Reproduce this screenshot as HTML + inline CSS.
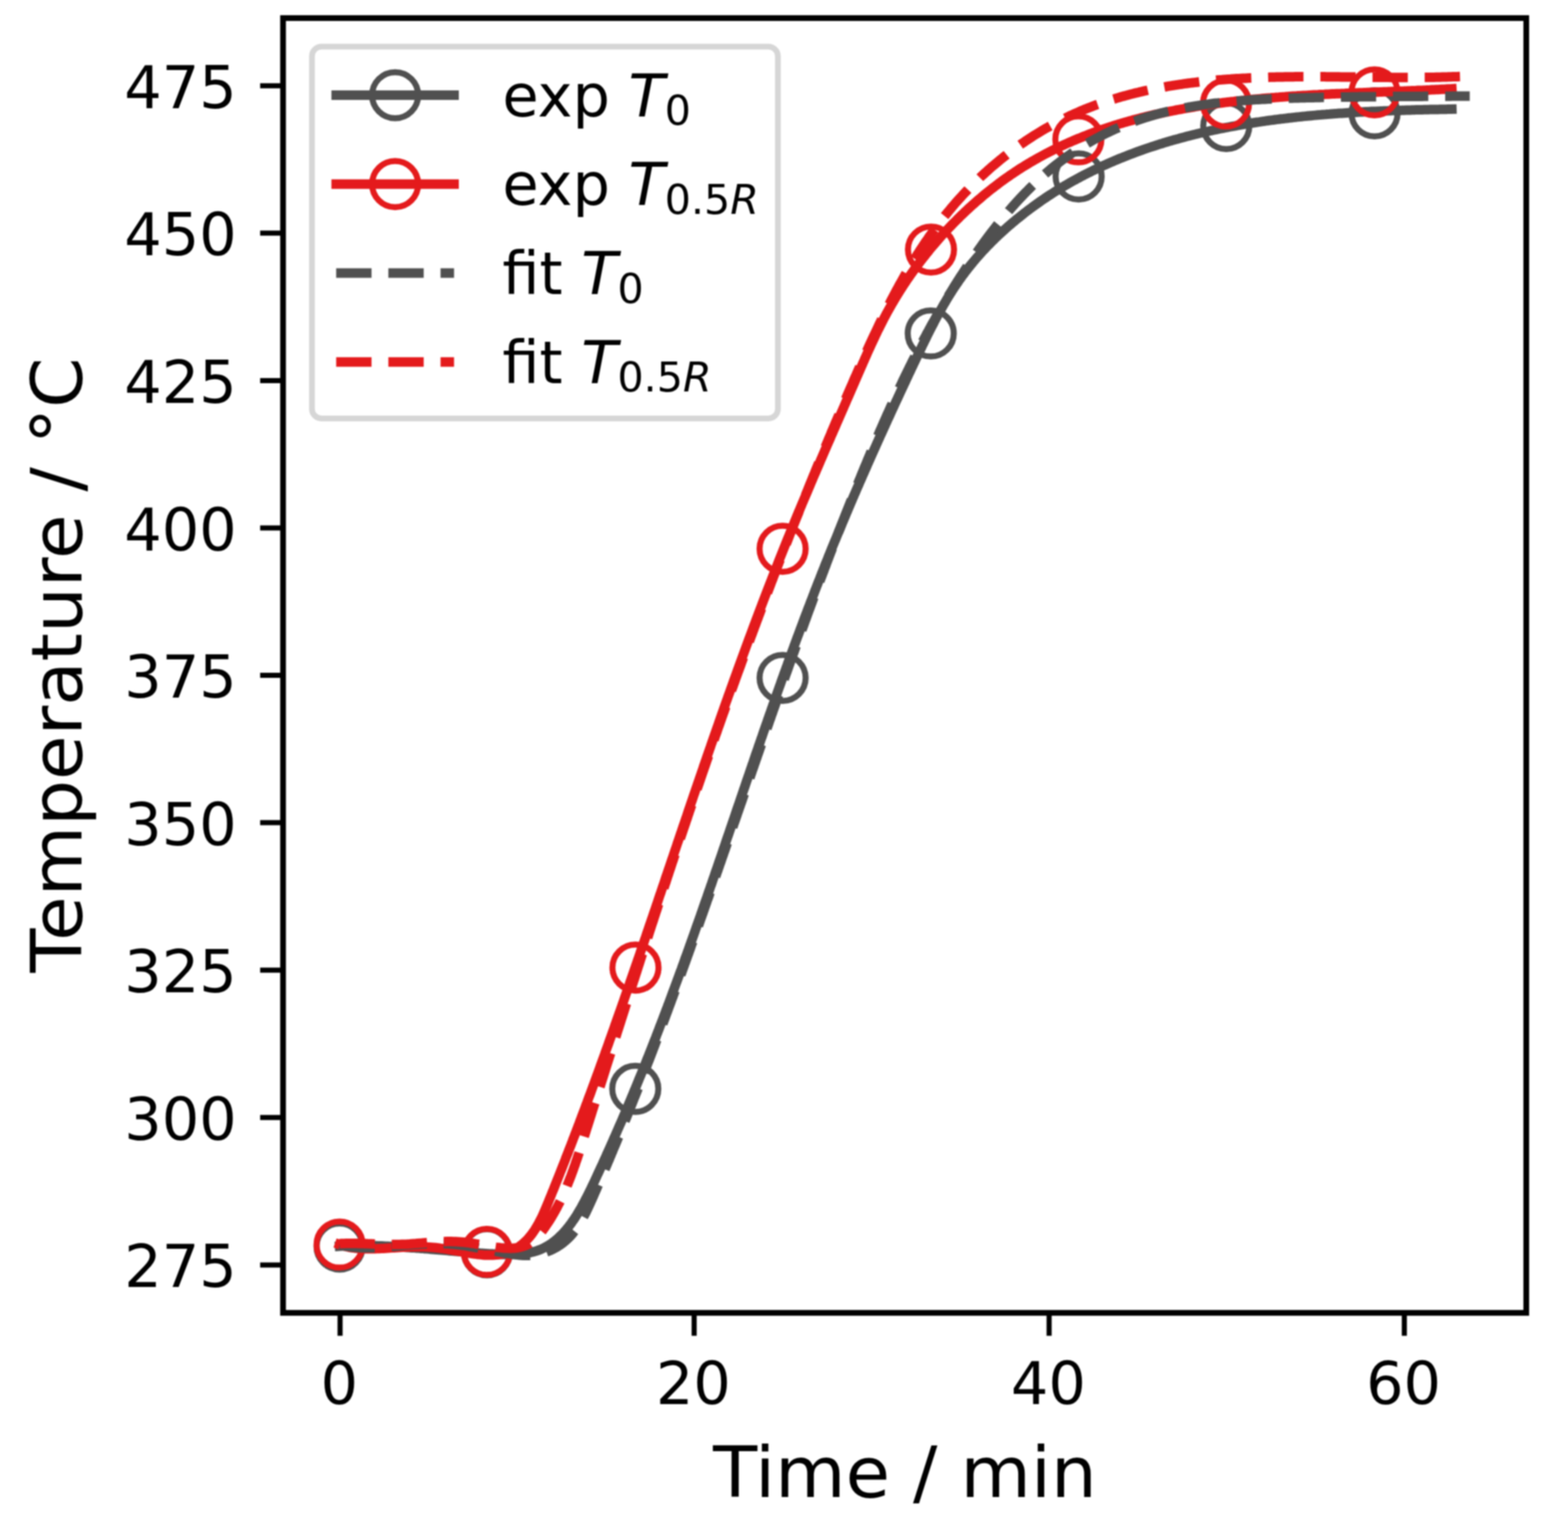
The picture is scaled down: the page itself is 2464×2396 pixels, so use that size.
<!DOCTYPE html>
<html><head><meta charset="utf-8"><title>Temperature vs Time</title>
<style>
html,body{margin:0;padding:0;background:#fff;}
svg{display:block;filter:blur(0.9px);}
text{font-family:"DejaVu Sans","Liberation Sans",sans-serif;fill:#000;}
</style></head><body>
<svg width="2464" height="2396" viewBox="0 0 2464 2396">
<rect width="2464" height="2396" fill="#fff"/>
<defs><clipPath id="ax"><rect x="444.8" y="28.4" width="1953.6" height="2034.3"/></clipPath></defs>
<g clip-path="url(#ax)">
<path d="M533.6,1958.0L536.5,1957.8L539.4,1957.7L542.3,1957.5L545.2,1957.4L548.1,1957.3L551.0,1957.2L554.0,1957.1L556.9,1957.1L559.9,1957.0L562.9,1957.0L565.9,1957.0L568.9,1957.0L571.9,1957.0L575.0,1957.0L578.0,1957.0L581.1,1957.1L584.1,1957.1L587.2,1957.2L590.3,1957.3L593.4,1957.4L596.5,1957.5L599.6,1957.6L602.7,1957.7L605.9,1957.9L609.0,1958.0L612.2,1958.2L615.3,1958.3L618.5,1958.5L621.7,1958.7L624.9,1958.9L628.1,1959.1L631.3,1959.3L634.5,1959.5L637.7,1959.7L640.9,1959.9L644.2,1960.2L647.4,1960.4L650.6,1960.6L653.9,1960.9L657.1,1961.1L660.4,1961.4L663.7,1961.6L666.9,1961.9L670.2,1962.1L673.5,1962.4L676.8,1962.7L680.1,1963.0L683.4,1963.2L686.7,1963.5L690.0,1963.8L693.3,1964.1L696.6,1964.3L699.9,1964.6L703.2,1964.9L706.5,1965.2L709.9,1965.4L713.2,1965.7L716.5,1966.0L719.8,1966.3L723.2,1966.5L726.5,1966.8L729.8,1967.1L733.2,1967.3L736.5,1967.6L739.8,1967.8L743.2,1968.1L746.5,1968.3L749.8,1968.6L753.2,1968.8L756.5,1969.1L759.8,1969.3L763.2,1969.5L766.5,1969.7L769.8,1969.9L773.2,1970.1L776.5,1970.3L779.8,1970.5L783.1,1970.6L786.4,1970.8L789.7,1970.9L793.0,1971.0L796.2,1971.0L799.4,1971.0L802.7,1971.0L805.8,1970.9L809.0,1970.8L812.2,1970.7L815.3,1970.4L818.4,1970.2L821.4,1969.9L824.4,1969.5L827.4,1969.0L830.4,1968.5L833.3,1968.0L836.2,1967.3L839.0,1966.6L841.8,1965.8L844.5,1964.9L847.2,1963.9L849.8,1962.9L852.4,1961.7L855.0,1960.5L857.5,1959.2L859.9,1957.8L862.3,1956.4L864.7,1954.9L867.0,1953.3L869.3,1951.6L871.5,1949.9L873.7,1948.1L875.9,1946.2L878.0,1944.3L880.1,1942.3L882.2,1940.3L884.2,1938.2L886.2,1936.0L888.1,1933.8L890.0,1931.6L891.9,1929.3L893.8,1927.0L895.6,1924.6L897.4,1922.2L899.1,1919.7L900.9,1917.2L902.6,1914.7L904.3,1912.1L906.0,1909.5L907.6,1906.8L909.2,1904.1L910.8,1901.4L912.4,1898.7L914.0,1895.9L915.5,1893.1L917.0,1890.3L918.6,1887.5L920.0,1884.6L921.5,1881.8L923.0,1878.9L924.5,1876.0L925.9,1873.1L927.3,1870.1L928.8,1867.2L930.2,1864.2L931.6,1861.3L933.0,1858.3L934.4,1855.4L935.8,1852.4L937.2,1849.4L938.5,1846.5L939.9,1843.5L941.3,1840.5L942.7,1837.6L944.0,1834.6L945.4,1831.6L946.8,1828.7L948.1,1825.7L949.5,1822.7L950.8,1819.8L952.2,1816.8L953.5,1813.8L954.8,1810.9L956.2,1807.9L957.5,1804.9L958.8,1802.0L960.2,1799.0L961.5,1796.0L962.8,1793.1L964.1,1790.1L965.4,1787.1L966.7,1784.2L968.0,1781.2L969.3,1778.2L970.6,1775.3L971.9,1772.3L973.2,1769.3L974.5,1766.4L975.8,1763.4L977.1,1760.4L978.3,1757.5L979.6,1754.5L980.9,1751.5L982.2,1748.6L983.4,1745.6L984.7,1742.6L985.9,1739.7L987.2,1736.7L988.4,1733.7L989.7,1730.7L990.9,1727.8L992.2,1724.8L993.4,1721.8L994.7,1718.9L995.9,1715.9L997.1,1712.9L998.3,1710.0L999.6,1707.0L1000.8,1704.0L1002.0,1701.0L1003.2,1698.1L1004.4,1695.1L1005.7,1692.1L1006.9,1689.2L1008.1,1686.2L1009.3,1683.2L1010.5,1680.3L1011.7,1677.3L1012.9,1674.3L1014.1,1671.3L1015.2,1668.4L1016.4,1665.4L1017.6,1662.4L1018.8,1659.5L1020.0,1656.5L1021.1,1653.5L1022.3,1650.6L1023.5,1647.6L1024.7,1644.6L1025.8,1641.6L1027.0,1638.7L1028.1,1635.7L1029.3,1632.7L1030.5,1629.8L1031.6,1626.8L1032.8,1623.8L1033.9,1620.8L1035.1,1617.9L1036.2,1614.9L1037.3,1611.9L1038.5,1609.0L1039.6,1606.0L1040.8,1603.0L1041.9,1600.0L1043.0,1597.1L1044.2,1594.1L1045.3,1591.1L1046.4,1588.2L1047.5,1585.2L1048.7,1582.2L1049.8,1579.2L1050.9,1576.3L1052.0,1573.3L1053.1,1570.3L1054.2,1567.4L1055.3,1564.4L1056.4,1561.4L1057.5,1558.4L1058.6,1555.5L1059.7,1552.5L1060.8,1549.5L1061.9,1546.5L1063.0,1543.6L1064.1,1540.6L1065.2,1537.6L1066.3,1534.7L1067.4,1531.7L1068.5,1528.7L1069.6,1525.7L1070.7,1522.8L1071.7,1519.8L1072.8,1516.8L1073.9,1513.9L1075.0,1510.9L1076.0,1507.9L1077.1,1504.9L1078.2,1502.0L1079.3,1499.0L1080.3,1496.0L1081.4,1493.1L1082.5,1490.1L1083.5,1487.1L1084.6,1484.1L1085.6,1481.2L1086.7,1478.2L1087.8,1475.2L1088.8,1472.3L1089.9,1469.3L1090.9,1466.3L1092.0,1463.3L1093.0,1460.4L1094.1,1457.4L1095.1,1454.4L1096.2,1451.4L1097.2,1448.5L1098.3,1445.5L1099.3,1442.5L1100.4,1439.6L1101.4,1436.6L1102.5,1433.6L1103.5,1430.6L1104.5,1427.7L1105.6,1424.7L1106.6,1421.7L1107.6,1418.8L1108.7,1415.8L1109.7,1412.8L1110.8,1409.9L1111.8,1406.9L1112.8,1403.9L1113.8,1400.9L1114.9,1398.0L1115.9,1395.0L1116.9,1392.0L1118.0,1389.1L1119.0,1386.1L1120.0,1383.1L1121.0,1380.1L1122.1,1377.2L1123.1,1374.2L1124.1,1371.2L1125.1,1368.3L1126.2,1365.3L1127.2,1362.3L1128.2,1359.3L1129.2,1356.4L1130.2,1353.4L1131.3,1350.4L1132.3,1347.5L1133.3,1344.5L1134.3,1341.5L1135.3,1338.6L1136.3,1335.6L1137.4,1332.6L1138.4,1329.6L1139.4,1326.7L1140.4,1323.7L1141.4,1320.7L1142.4,1317.8L1143.4,1314.8L1144.5,1311.8L1145.5,1308.9L1146.5,1305.9L1147.5,1302.9L1148.5,1300.0L1149.5,1297.0L1150.5,1294.0L1151.5,1291.1L1152.6,1288.1L1153.6,1285.1L1154.6,1282.1L1155.6,1279.2L1156.6,1276.2L1157.6,1273.2L1158.6,1270.3L1159.6,1267.3L1160.7,1264.3L1161.7,1261.4L1162.7,1258.4L1163.7,1255.4L1164.7,1252.5L1165.7,1249.5L1166.7,1246.5L1167.7,1243.6L1168.7,1240.6L1169.8,1237.6L1170.8,1234.7L1171.8,1231.7L1172.8,1228.7L1173.8,1225.8L1174.8,1222.8L1175.8,1219.8L1176.9,1216.9L1177.9,1213.9L1178.9,1210.9L1179.9,1208.0L1180.9,1205.0L1181.9,1202.0L1183.0,1199.1L1184.0,1196.1L1185.0,1193.1L1186.0,1190.2L1187.0,1187.2L1188.0,1184.3L1189.1,1181.3L1190.1,1178.3L1191.1,1175.4L1192.1,1172.4L1193.2,1169.4L1194.2,1166.5L1195.2,1163.5L1196.2,1160.5L1197.3,1157.6L1198.3,1154.6L1199.3,1151.6L1200.3,1148.7L1201.4,1145.7L1202.4,1142.8L1203.4,1139.8L1204.5,1136.8L1205.5,1133.9L1206.5,1130.9L1207.6,1127.9L1208.6,1125.0L1209.6,1122.0L1210.7,1119.1L1211.7,1116.1L1212.7,1113.1L1213.8,1110.2L1214.8,1107.2L1215.9,1104.3L1216.9,1101.3L1218.0,1098.3L1219.0,1095.4L1220.0,1092.4L1221.1,1089.5L1222.1,1086.5L1223.2,1083.5L1224.2,1080.6L1225.3,1077.6L1226.4,1074.7L1227.4,1071.7L1228.5,1068.7L1229.5,1065.8L1230.6,1062.8L1231.6,1059.9L1232.7,1056.9L1233.8,1054.0L1234.8,1051.0L1235.9,1048.0L1237.0,1045.1L1238.0,1042.1L1239.1,1039.2L1240.2,1036.2L1241.3,1033.3L1242.3,1030.3L1243.4,1027.3L1244.5,1024.4L1245.6,1021.4L1246.7,1018.5L1247.7,1015.5L1248.8,1012.6L1249.9,1009.6L1251.0,1006.7L1252.1,1003.7L1253.2,1000.7L1254.3,997.8L1255.4,994.8L1256.5,991.9L1257.6,988.9L1258.7,986.0L1259.8,983.0L1260.9,980.1L1262.0,977.1L1263.1,974.2L1264.2,971.2L1265.3,968.3L1266.4,965.3L1267.6,962.4L1268.7,959.4L1269.8,956.5L1270.9,953.5L1272.1,950.6L1273.2,947.6L1274.3,944.7L1275.5,941.7L1276.6,938.8L1277.7,935.8L1278.9,932.9L1280.0,929.9L1281.1,927.0L1282.3,924.0L1283.4,921.1L1284.6,918.1L1285.7,915.2L1286.9,912.2L1288.1,909.3L1289.2,906.3L1290.4,903.4L1291.5,900.4L1292.7,897.5L1293.9,894.5L1295.1,891.6L1296.2,888.6L1297.4,885.7L1298.6,882.7L1299.8,879.8L1301.0,876.9L1302.1,873.9L1303.3,871.0L1304.5,868.0L1305.7,865.1L1306.9,862.1L1308.1,859.2L1309.3,856.2L1310.5,853.3L1311.7,850.4L1313.0,847.4L1314.2,844.5L1315.4,841.5L1316.6,838.6L1317.8,835.7L1319.0,832.7L1320.3,829.8L1321.5,826.8L1322.7,823.9L1323.9,821.0L1325.2,818.0L1326.4,815.1L1327.7,812.2L1328.9,809.2L1330.1,806.3L1331.4,803.4L1332.6,800.4L1333.9,797.5L1335.1,794.6L1336.4,791.6L1337.6,788.7L1338.9,785.8L1340.1,782.8L1341.4,779.9L1342.6,777.0L1343.9,774.1L1345.2,771.1L1346.4,768.2L1347.7,765.3L1349.0,762.4L1350.2,759.4L1351.5,756.5L1352.8,753.6L1354.1,750.7L1355.3,747.8L1356.6,744.9L1357.9,741.9L1359.2,739.0L1360.5,736.1L1361.8,733.2L1363.0,730.3L1364.3,727.4L1365.6,724.5L1366.9,721.6L1368.2,718.6L1369.5,715.7L1370.8,712.8L1372.1,709.9L1373.4,707.0L1374.7,704.1L1376.0,701.2L1377.3,698.3L1378.6,695.4L1379.9,692.5L1381.2,689.6L1382.5,686.7L1383.8,683.8L1385.1,681.0L1386.4,678.1L1387.8,675.2L1389.1,672.3L1390.4,669.4L1391.7,666.5L1393.0,663.6L1394.3,660.7L1395.6,657.9L1397.0,655.0L1398.3,652.1L1399.6,649.2L1400.9,646.4L1402.2,643.5L1403.6,640.6L1404.9,637.7L1406.2,634.9L1407.5,632.0L1408.9,629.1L1410.2,626.3L1411.5,623.4L1412.9,620.5L1414.2,617.7L1415.5,614.8L1416.8,612.0L1418.2,609.1L1419.5,606.3L1420.8,603.4L1422.2,600.6L1423.5,597.7L1424.8,594.9L1426.2,592.0L1427.5,589.2L1428.8,586.3L1430.2,583.5L1431.5,580.7L1432.8,577.8L1434.2,575.0L1435.5,572.2L1436.9,569.3L1438.2,566.5L1439.5,563.7L1440.9,560.9L1442.2,558.0L1443.5,555.2L1444.9,552.4L1446.2,549.6L1447.6,546.8L1448.9,544.0L1450.3,541.2L1451.7,538.4L1453.0,535.6L1454.4,532.8L1455.8,530.0L1457.1,527.2L1458.5,524.4L1459.9,521.6L1461.3,518.9L1462.7,516.1L1464.1,513.3L1465.6,510.6L1467.0,507.8L1468.4,505.1L1469.9,502.3L1471.3,499.6L1472.8,496.9L1474.3,494.2L1475.8,491.4L1477.3,488.7L1478.8,486.0L1480.3,483.3L1481.8,480.6L1483.4,477.9L1485.0,475.3L1486.5,472.6L1488.1,469.9L1489.7,467.3L1491.4,464.6L1493.0,462.0L1494.7,459.4L1496.3,456.7L1498.0,454.1L1499.7,451.5L1501.5,448.9L1503.2,446.3L1505.0,443.8L1506.7,441.2L1508.5,438.6L1510.4,436.1L1512.2,433.5L1514.1,431.0L1515.9,428.5L1517.8,426.0L1519.8,423.5L1521.7,421.0L1523.7,418.5L1525.7,416.0L1527.7,413.6L1529.7,411.1L1531.8,408.7L1533.8,406.3L1535.9,403.9L1538.1,401.5L1540.2,399.1L1542.3,396.7L1544.5,394.3L1546.7,392.0L1548.9,389.6L1551.1,387.3L1553.4,385.0L1555.6,382.7L1557.9,380.4L1560.2,378.2L1562.5,375.9L1564.8,373.7L1567.2,371.4L1569.5,369.2L1571.9,367.0L1574.2,364.8L1576.6,362.6L1579.0,360.5L1581.4,358.3L1583.8,356.2L1586.3,354.1L1588.7,352.0L1591.1,349.9L1593.6,347.9L1596.1,345.8L1598.5,343.8L1601.0,341.8L1603.5,339.8L1606.0,337.8L1608.5,335.8L1611.0,333.9L1613.6,331.9L1616.1,330.0L1618.6,328.1L1621.2,326.2L1623.7,324.3L1626.3,322.5L1628.9,320.6L1631.4,318.8L1634.0,317.0L1636.6,315.2L1639.2,313.4L1641.8,311.6L1644.4,309.9L1647.1,308.1L1649.7,306.4L1652.3,304.7L1655.0,303.0L1657.6,301.3L1660.3,299.6L1662.9,298.0L1665.6,296.4L1668.3,294.7L1671.0,293.1L1673.7,291.5L1676.4,290.0L1679.1,288.4L1681.8,286.8L1684.5,285.3L1687.2,283.8L1690.0,282.3L1692.7,280.8L1695.5,279.3L1698.2,277.8L1701.0,276.4L1703.7,274.9L1706.5,273.5L1709.3,272.1L1712.1,270.7L1714.8,269.3L1717.6,267.9L1720.4,266.6L1723.3,265.2L1726.1,263.9L1728.9,262.6L1731.7,261.2L1734.5,259.9L1737.4,258.7L1740.2,257.4L1743.1,256.1L1745.9,254.9L1748.8,253.7L1751.6,252.4L1754.5,251.2L1757.4,250.0L1760.3,248.8L1763.2,247.7L1766.1,246.5L1769.0,245.4L1771.9,244.2L1774.8,243.1L1777.7,242.0L1780.6,240.9L1783.5,239.8L1786.4,238.7L1789.4,237.7L1792.3,236.6L1795.3,235.6L1798.2,234.5L1801.1,233.5L1804.1,232.5L1807.1,231.5L1810.0,230.5L1813.0,229.6L1816.0,228.6L1819.0,227.6L1821.9,226.7L1824.9,225.8L1827.9,224.8L1830.9,223.9L1833.9,223.0L1836.9,222.1L1839.9,221.3L1842.9,220.4L1845.9,219.5L1849.0,218.7L1852.0,217.9L1855.0,217.0L1858.0,216.2L1861.1,215.4L1864.1,214.6L1867.2,213.8L1870.2,213.1L1873.3,212.3L1876.3,211.5L1879.4,210.8L1882.4,210.0L1885.5,209.3L1888.5,208.6L1891.6,207.9L1894.7,207.2L1897.8,206.5L1900.8,205.8L1903.9,205.1L1907.0,204.5L1910.1,203.8L1913.2,203.2L1916.3,202.5L1919.4,201.9L1922.5,201.3L1925.6,200.7L1928.7,200.1L1931.8,199.5L1934.9,198.9L1938.0,198.3L1941.1,197.8L1944.2,197.2L1947.4,196.6L1950.5,196.1L1953.6,195.6L1956.7,195.0L1959.9,194.5L1963.0,194.0L1966.1,193.5L1969.3,193.0L1972.4,192.5L1975.5,192.0L1978.7,191.6L1981.8,191.1L1985.0,190.6L1988.1,190.2L1991.2,189.7L1994.4,189.3L1997.5,188.9L2000.7,188.5L2003.8,188.0L2007.0,187.6L2010.2,187.2L2013.3,186.8L2016.5,186.5L2019.6,186.1L2022.8,185.7L2026.0,185.3L2029.1,185.0L2032.3,184.6L2035.5,184.3L2038.6,183.9L2041.8,183.6L2045.0,183.3L2048.1,182.9L2051.3,182.6L2054.5,182.3L2057.6,182.0L2060.8,181.7L2064.0,181.4L2067.2,181.1L2070.3,180.8L2073.5,180.6L2076.7,180.3L2079.8,180.0L2083.0,179.8L2086.2,179.5L2089.4,179.3L2092.5,179.0L2095.7,178.8L2098.9,178.6L2102.1,178.3L2105.2,178.1L2108.4,177.9L2111.6,177.7L2114.8,177.5L2117.9,177.3L2121.1,177.1L2124.3,176.9L2127.5,176.7L2130.6,176.5L2133.8,176.3L2137.0,176.1L2140.2,176.0L2143.3,175.8L2146.5,175.6L2149.7,175.5L2152.8,175.3L2156.0,175.1L2159.2,175.0L2162.3,174.9L2165.5,174.7L2168.7,174.6L2171.8,174.4L2175.0,174.3L2178.2,174.2L2181.3,174.1L2184.5,173.9L2187.6,173.8L2190.8,173.7L2193.9,173.6L2197.1,173.5L2200.2,173.4L2203.4,173.3L2206.5,173.2L2209.7,173.1L2212.8,173.0L2216.0,172.9L2219.1,172.8L2222.3,172.7L2225.4,172.6L2228.5,172.6L2231.7,172.5L2234.8,172.4L2237.9,172.3L2241.1,172.3L2244.2,172.2L2247.3,172.1L2250.4,172.1L2253.5,172.0L2256.7,171.9L2259.8,171.9L2262.9,171.8L2266.0,171.8L2269.1,171.7L2272.2,171.7L2275.3,171.6L2278.4,171.6L2281.5,171.5" fill="none" stroke="#505050" stroke-width="15" stroke-linecap="square" stroke-linejoin="round"/>
<g fill="none" stroke="#505050" stroke-width="9.5"><circle cx="533.6" cy="1958.5" r="36.2"/><circle cx="765.2" cy="1967.5" r="36.2"/><circle cx="998.3" cy="1710.8" r="36.2"/><circle cx="1229.8" cy="1065.1" r="36.2"/><circle cx="1462.6" cy="523.9" r="36.2"/><circle cx="1695" cy="277.3" r="36.2"/><circle cx="1927" cy="198.1" r="36.2"/><circle cx="2160" cy="178" r="36.2"/></g>
<path d="M533.6,1955.4L536.2,1956.3L538.9,1957.1L541.6,1957.9L544.3,1958.6L547.1,1959.2L549.9,1959.8L552.8,1960.2L555.6,1960.6L558.6,1961.0L561.5,1961.3L564.5,1961.5L567.5,1961.7L570.5,1961.9L573.6,1962.0L576.7,1962.0L579.8,1962.1L583.0,1962.0L586.1,1962.0L589.3,1961.9L592.6,1961.8L595.8,1961.7L599.1,1961.5L602.3,1961.4L605.7,1961.2L609.0,1961.0L612.3,1960.8L615.7,1960.6L619.0,1960.4L622.4,1960.2L625.8,1960.0L629.2,1959.8L632.7,1959.6L636.1,1959.5L639.6,1959.3L643.0,1959.2L646.5,1959.1L649.9,1959.0L653.4,1958.9L656.9,1958.9L660.4,1958.9L663.9,1959.0L667.4,1959.1L670.9,1959.2L674.4,1959.4L677.8,1959.7L681.3,1960.0L684.8,1960.3L688.3,1960.7L691.8,1961.2L695.3,1961.6L698.7,1962.2L702.2,1962.7L705.6,1963.3L709.1,1963.9L712.5,1964.5L715.9,1965.1L719.3,1965.7L722.7,1966.3L726.1,1967.0L729.5,1967.6L732.8,1968.1L736.2,1968.7L739.5,1969.3L742.8,1969.8L746.1,1970.2L749.3,1970.7L752.6,1971.1L755.8,1971.4L759.0,1971.7L762.1,1971.9L765.3,1972.0L768.4,1972.1L771.5,1972.1L774.5,1972.0L777.6,1971.8L780.6,1971.6L783.5,1971.2L786.5,1970.8L789.4,1970.2L792.2,1969.5L795.1,1968.7L797.9,1967.8L800.6,1966.8L803.3,1965.6L806.0,1964.4L808.6,1963.0L811.2,1961.6L813.7,1960.0L816.1,1958.4L818.5,1956.6L820.8,1954.8L823.0,1952.9L825.2,1950.9L827.3,1948.8L829.3,1946.7L831.3,1944.4L833.2,1942.1L835.1,1939.8L836.8,1937.4L838.6,1934.9L840.3,1932.4L841.9,1929.8L843.5,1927.1L845.1,1924.4L846.6,1921.7L848.0,1918.9L849.5,1916.1L850.9,1913.3L852.3,1910.4L853.6,1907.5L854.9,1904.5L856.2,1901.6L857.5,1898.6L858.8,1895.6L860.0,1892.6L861.3,1889.6L862.5,1886.5L863.7,1883.5L865.0,1880.5L866.2,1877.5L867.4,1874.4L868.6,1871.4L869.9,1868.4L871.1,1865.4L872.3,1862.3L873.5,1859.3L874.7,1856.3L875.9,1853.2L877.1,1850.2L878.3,1847.2L879.5,1844.2L880.7,1841.1L881.9,1838.1L883.1,1835.1L884.3,1832.0L885.5,1829.0L886.7,1826.0L887.9,1823.0L889.0,1819.9L890.2,1816.9L891.4,1813.9L892.6,1810.9L893.7,1807.8L894.9,1804.8L896.1,1801.8L897.3,1798.8L898.4,1795.7L899.6,1792.7L900.7,1789.7L901.9,1786.6L903.1,1783.6L904.2,1780.6L905.4,1777.6L906.5,1774.5L907.7,1771.5L908.8,1768.5L910.0,1765.5L911.1,1762.4L912.3,1759.4L913.4,1756.4L914.5,1753.4L915.7,1750.3L916.8,1747.3L918.0,1744.3L919.1,1741.3L920.2,1738.2L921.3,1735.2L922.5,1732.2L923.6,1729.2L924.7,1726.1L925.8,1723.1L927.0,1720.1L928.1,1717.1L929.2,1714.0L930.3,1711.0L931.4,1708.0L932.5,1705.0L933.7,1701.9L934.8,1698.9L935.9,1695.9L937.0,1692.9L938.1,1689.8L939.2,1686.8L940.3,1683.8L941.4,1680.8L942.5,1677.7L943.6,1674.7L944.7,1671.7L945.8,1668.7L946.9,1665.6L948.0,1662.6L949.1,1659.6L950.2,1656.6L951.2,1653.5L952.3,1650.5L953.4,1647.5L954.5,1644.5L955.6,1641.4L956.7,1638.4L957.7,1635.4L958.8,1632.4L959.9,1629.4L961.0,1626.3L962.0,1623.3L963.1,1620.3L964.2,1617.3L965.3,1614.2L966.3,1611.2L967.4,1608.2L968.5,1605.2L969.5,1602.2L970.6,1599.1L971.7,1596.1L972.7,1593.1L973.8,1590.1L974.9,1587.0L975.9,1584.0L977.0,1581.0L978.0,1578.0L979.1,1575.0L980.2,1571.9L981.2,1568.9L982.3,1565.9L983.3,1562.9L984.4,1559.8L985.4,1556.8L986.5,1553.8L987.5,1550.8L988.6,1547.8L989.6,1544.7L990.7,1541.7L991.7,1538.7L992.8,1535.7L993.8,1532.7L994.9,1529.6L995.9,1526.6L996.9,1523.6L998.0,1520.6L999.0,1517.6L1000.1,1514.5L1001.1,1511.5L1002.1,1508.5L1003.2,1505.5L1004.2,1502.5L1005.3,1499.4L1006.3,1496.4L1007.3,1493.4L1008.4,1490.4L1009.4,1487.4L1010.4,1484.3L1011.5,1481.3L1012.5,1478.3L1013.5,1475.3L1014.6,1472.3L1015.6,1469.2L1016.6,1466.2L1017.7,1463.2L1018.7,1460.2L1019.7,1457.2L1020.7,1454.2L1021.8,1451.1L1022.8,1448.1L1023.8,1445.1L1024.9,1442.1L1025.9,1439.1L1026.9,1436.0L1027.9,1433.0L1029.0,1430.0L1030.0,1427.0L1031.0,1424.0L1032.0,1421.0L1033.1,1417.9L1034.1,1414.9L1035.1,1411.9L1036.1,1408.9L1037.1,1405.9L1038.2,1402.9L1039.2,1399.8L1040.2,1396.8L1041.2,1393.8L1042.3,1390.8L1043.3,1387.8L1044.3,1384.8L1045.3,1381.7L1046.3,1378.7L1047.4,1375.7L1048.4,1372.7L1049.4,1369.7L1050.4,1366.7L1051.5,1363.6L1052.5,1360.6L1053.5,1357.6L1054.5,1354.6L1055.5,1351.6L1056.6,1348.6L1057.6,1345.6L1058.6,1342.5L1059.6,1339.5L1060.6,1336.5L1061.7,1333.5L1062.7,1330.5L1063.7,1327.5L1064.7,1324.4L1065.8,1321.4L1066.8,1318.4L1067.8,1315.4L1068.8,1312.4L1069.8,1309.4L1070.9,1306.4L1071.9,1303.3L1072.9,1300.3L1073.9,1297.3L1075.0,1294.3L1076.0,1291.3L1077.0,1288.3L1078.0,1285.3L1079.1,1282.3L1080.1,1279.2L1081.1,1276.2L1082.1,1273.2L1083.2,1270.2L1084.2,1267.2L1085.2,1264.2L1086.2,1261.2L1087.3,1258.2L1088.3,1255.1L1089.3,1252.1L1090.3,1249.1L1091.4,1246.1L1092.4,1243.1L1093.4,1240.1L1094.5,1237.1L1095.5,1234.1L1096.5,1231.0L1097.6,1228.0L1098.6,1225.0L1099.6,1222.0L1100.7,1219.0L1101.7,1216.0L1102.7,1213.0L1103.8,1210.0L1104.8,1207.0L1105.8,1203.9L1106.9,1200.9L1107.9,1197.9L1109.0,1194.9L1110.0,1191.9L1111.0,1188.9L1112.1,1185.9L1113.1,1182.9L1114.2,1179.9L1115.2,1176.9L1116.3,1173.9L1117.3,1170.8L1118.3,1167.8L1119.4,1164.8L1120.4,1161.8L1121.5,1158.8L1122.5,1155.8L1123.6,1152.8L1124.6,1149.8L1125.7,1146.8L1126.7,1143.8L1127.8,1140.8L1128.9,1137.7L1129.9,1134.7L1131.0,1131.7L1132.0,1128.7L1133.1,1125.7L1134.1,1122.7L1135.2,1119.7L1136.3,1116.7L1137.3,1113.7L1138.4,1110.7L1139.5,1107.7L1140.5,1104.7L1141.6,1101.7L1142.7,1098.7L1143.7,1095.6L1144.8,1092.6L1145.9,1089.6L1147.0,1086.6L1148.0,1083.6L1149.1,1080.6L1150.2,1077.6L1151.3,1074.6L1152.3,1071.6L1153.4,1068.6L1154.5,1065.6L1155.6,1062.6L1156.7,1059.6L1157.8,1056.6L1158.8,1053.6L1159.9,1050.6L1161.0,1047.6L1162.1,1044.6L1163.2,1041.5L1164.3,1038.5L1165.4,1035.5L1166.5,1032.5L1167.6,1029.5L1168.7,1026.5L1169.8,1023.5L1170.9,1020.5L1172.0,1017.5L1173.1,1014.5L1174.2,1011.5L1175.3,1008.5L1176.4,1005.5L1177.5,1002.5L1178.7,999.5L1179.8,996.5L1180.9,993.5L1182.0,990.5L1183.1,987.5L1184.2,984.5L1185.4,981.5L1186.5,978.5L1187.6,975.5L1188.7,972.5L1189.9,969.5L1191.0,966.5L1192.1,963.5L1193.3,960.5L1194.4,957.5L1195.6,954.5L1196.7,951.5L1197.8,948.5L1199.0,945.5L1200.1,942.5L1201.3,939.5L1202.4,936.5L1203.6,933.5L1204.7,930.5L1205.9,927.5L1207.0,924.5L1208.2,921.5L1209.4,918.5L1210.5,915.5L1211.7,912.5L1212.9,909.5L1214.0,906.5L1215.2,903.5L1216.4,900.5L1217.5,897.5L1218.7,894.5L1219.9,891.5L1221.1,888.5L1222.3,885.5L1223.4,882.5L1224.6,879.5L1225.8,876.5L1227.0,873.5L1228.2,870.5L1229.4,867.5L1230.6,864.5L1231.8,861.5L1233.0,858.5L1234.2,855.5L1235.4,852.5L1236.6,849.5L1237.8,846.5L1239.1,843.5L1240.3,840.5L1241.5,837.5L1242.7,834.5L1243.9,831.6L1245.2,828.6L1246.4,825.6L1247.6,822.6L1248.8,819.6L1250.1,816.6L1251.3,813.6L1252.6,810.6L1253.8,807.6L1255.0,804.6L1256.3,801.6L1257.5,798.6L1258.8,795.6L1260.0,792.6L1261.3,789.6L1262.6,786.6L1263.8,783.7L1265.1,780.7L1266.3,777.7L1267.6,774.7L1268.9,771.7L1270.1,768.7L1271.4,765.7L1272.7,762.7L1273.9,759.7L1275.2,756.8L1276.5,753.8L1277.7,750.8L1279.0,747.8L1280.3,744.8L1281.6,741.9L1282.8,738.9L1284.1,735.9L1285.4,732.9L1286.7,729.9L1288.0,727.0L1289.2,724.0L1290.5,721.0L1291.8,718.1L1293.1,715.1L1294.4,712.1L1295.7,709.1L1296.9,706.2L1298.2,703.2L1299.5,700.3L1300.8,697.3L1302.1,694.3L1303.4,691.4L1304.7,688.4L1305.9,685.5L1307.2,682.5L1308.5,679.6L1309.8,676.6L1311.1,673.7L1312.4,670.7L1313.6,667.8L1314.9,664.8L1316.2,661.9L1317.5,659.0L1318.8,656.0L1320.0,653.1L1321.3,650.2L1322.6,647.2L1323.9,644.3L1325.2,641.4L1326.4,638.5L1327.7,635.5L1329.0,632.6L1330.2,629.7L1331.5,626.8L1332.8,623.9L1334.1,621.0L1335.3,618.1L1336.6,615.2L1337.8,612.3L1339.1,609.4L1340.4,606.5L1341.6,603.6L1342.9,600.7L1344.1,597.8L1345.4,594.9L1346.6,592.0L1347.9,589.2L1349.1,586.3L1350.4,583.4L1351.6,580.6L1352.9,577.7L1354.1,574.8L1355.4,572.0L1356.6,569.1L1357.9,566.3L1359.1,563.4L1360.4,560.6L1361.7,557.7L1362.9,554.9L1364.2,552.0L1365.5,549.2L1366.8,546.4L1368.1,543.5L1369.3,540.7L1370.7,537.9L1372.0,535.1L1373.3,532.3L1374.6,529.5L1375.9,526.6L1377.3,523.8L1378.6,521.0L1380.0,518.2L1381.4,515.5L1382.8,512.7L1384.2,509.9L1385.6,507.1L1387.0,504.3L1388.4,501.6L1389.9,498.8L1391.4,496.0L1392.8,493.3L1394.3,490.5L1395.8,487.8L1397.4,485.0L1398.9,482.3L1400.5,479.5L1402.1,476.8L1403.7,474.1L1405.3,471.3L1406.9,468.6L1408.5,465.9L1410.2,463.2L1411.9,460.5L1413.6,457.8L1415.3,455.1L1417.0,452.4L1418.7,449.7L1420.5,447.1L1422.3,444.4L1424.0,441.7L1425.8,439.1L1427.7,436.4L1429.5,433.8L1431.3,431.1L1433.2,428.5L1435.1,425.9L1437.0,423.3L1438.9,420.7L1440.8,418.1L1442.7,415.5L1444.7,412.9L1446.6,410.3L1448.6,407.8L1450.6,405.2L1452.6,402.7L1454.6,400.1L1456.6,397.6L1458.7,395.1L1460.7,392.5L1462.8,390.0L1464.9,387.5L1467.0,385.1L1469.1,382.6L1471.2,380.1L1473.4,377.7L1475.5,375.2L1477.7,372.8L1479.8,370.3L1482.0,367.9L1484.2,365.5L1486.4,363.1L1488.7,360.7L1490.9,358.4L1493.2,356.0L1495.4,353.7L1497.7,351.3L1500.0,349.0L1502.3,346.7L1504.6,344.4L1506.9,342.1L1509.2,339.8L1511.6,337.5L1513.9,335.3L1516.3,333.0L1518.6,330.8L1521.0,328.6L1523.4,326.4L1525.8,324.2L1528.2,322.0L1530.7,319.9L1533.1,317.7L1535.6,315.6L1538.0,313.5L1540.5,311.4L1543.0,309.3L1545.4,307.2L1547.9,305.1L1550.4,303.1L1553.0,301.0L1555.5,299.0L1558.0,297.0L1560.6,295.0L1563.1,293.1L1565.7,291.1L1568.3,289.2L1570.8,287.2L1573.4,285.3L1576.0,283.4L1578.6,281.5L1581.2,279.7L1583.9,277.8L1586.5,276.0L1589.1,274.2L1591.8,272.4L1594.4,270.6L1597.1,268.9L1599.8,267.1L1602.4,265.4L1605.1,263.7L1607.8,262.0L1610.5,260.3L1613.2,258.7L1616.0,257.0L1618.7,255.4L1621.4,253.8L1624.2,252.2L1626.9,250.6L1629.7,249.1L1632.4,247.5L1635.2,246.0L1638.0,244.5L1640.7,243.0L1643.5,241.5L1646.3,240.1L1649.1,238.6L1651.9,237.2L1654.8,235.8L1657.6,234.4L1660.4,233.0L1663.2,231.6L1666.1,230.3L1668.9,228.9L1671.8,227.6L1674.6,226.3L1677.5,225.0L1680.4,223.7L1683.3,222.5L1686.2,221.2L1689.0,220.0L1691.9,218.8L1694.9,217.5L1697.8,216.4L1700.7,215.2L1703.6,214.0L1706.5,212.9L1709.5,211.7L1712.4,210.6L1715.3,209.5L1718.3,208.4L1721.3,207.3L1724.2,206.2L1727.2,205.2L1730.2,204.1L1733.1,203.1L1736.1,202.1L1739.1,201.1L1742.1,200.1L1745.1,199.1L1748.1,198.2L1751.1,197.2L1754.1,196.3L1757.1,195.3L1760.2,194.4L1763.2,193.5L1766.2,192.6L1769.3,191.8L1772.3,190.9L1775.3,190.0L1778.4,189.2L1781.4,188.3L1784.5,187.5L1787.6,186.7L1790.6,185.9L1793.7,185.1L1796.8,184.4L1799.9,183.6L1803.0,182.8L1806.0,182.1L1809.1,181.4L1812.2,180.6L1815.3,179.9L1818.4,179.2L1821.5,178.5L1824.7,177.8L1827.8,177.2L1830.9,176.5L1834.0,175.9L1837.1,175.2L1840.3,174.6L1843.4,174.0L1846.5,173.4L1849.7,172.7L1852.8,172.2L1856.0,171.6L1859.1,171.0L1862.3,170.4L1865.4,169.9L1868.6,169.3L1871.7,168.8L1874.9,168.3L1878.1,167.7L1881.2,167.2L1884.4,166.7L1887.6,166.2L1890.8,165.7L1893.9,165.3L1897.1,164.8L1900.3,164.3L1903.5,163.9L1906.7,163.4L1909.9,163.0L1913.1,162.5L1916.3,162.1L1919.5,161.7L1922.7,161.3L1925.9,160.9L1929.1,160.5L1932.3,160.1L1935.5,159.7L1938.7,159.4L1941.9,159.0L1945.1,158.6L1948.3,158.3L1951.6,157.9L1954.8,157.6L1958.0,157.2L1961.2,156.9L1964.4,156.6L1967.7,156.3L1970.9,156.0L1974.1,155.7L1977.3,155.4L1980.6,155.1L1983.8,154.8L1987.0,154.5L1990.3,154.2L1993.5,153.9L1996.7,153.7L2000.0,153.4L2003.2,153.2L2006.4,152.9L2009.7,152.7L2012.9,152.4L2016.2,152.2L2019.4,152.0L2022.6,151.7L2025.9,151.5L2029.1,151.3L2032.3,151.1L2035.6,150.9L2038.8,150.6L2042.1,150.4L2045.3,150.2L2048.5,150.0L2051.8,149.9L2055.0,149.7L2058.3,149.5L2061.5,149.3L2064.7,149.1L2068.0,148.9L2071.2,148.8L2074.5,148.6L2077.7,148.4L2080.9,148.3L2084.2,148.1L2087.4,148.0L2090.6,147.8L2093.9,147.6L2097.1,147.5L2100.3,147.3L2103.6,147.2L2106.8,147.1L2110.0,146.9L2113.3,146.8L2116.5,146.6L2119.7,146.5L2122.9,146.4L2126.2,146.2L2129.4,146.1L2132.6,146.0L2135.8,145.8L2139.0,145.7L2142.3,145.6L2145.5,145.4L2148.7,145.3L2151.9,145.2L2155.1,145.1L2158.3,144.9L2161.5,144.8L2164.7,144.7L2167.9,144.6L2171.1,144.4L2174.3,144.3L2177.5,144.2L2180.7,144.1L2183.9,143.9L2187.1,143.8L2190.3,143.7L2193.5,143.6L2196.7,143.4L2199.8,143.3L2203.0,143.2L2206.2,143.1L2209.4,142.9L2212.5,142.8L2215.7,142.7L2218.9,142.5L2222.0,142.4L2225.2,142.3L2228.3,142.1L2231.5,142.0L2234.6,141.9L2237.8,141.7L2240.9,141.6L2244.1,141.4L2247.2,141.3L2250.3,141.1L2253.5,141.0L2256.6,140.8L2259.7,140.7L2262.8,140.5L2266.0,140.3L2269.1,140.2L2272.2,140.0L2275.3,139.8L2278.4,139.7L2281.5,139.5" fill="none" stroke="#e41a1c" stroke-width="15" stroke-linecap="square" stroke-linejoin="round"/>
<g fill="none" stroke="#e41a1c" stroke-width="9.5"><circle cx="533.6" cy="1955.4" r="36.2"/><circle cx="765.2" cy="1966.9" r="36.2"/><circle cx="998.6" cy="1520.2" r="36.2"/><circle cx="1229.8" cy="862.2" r="36.2"/><circle cx="1463" cy="392.1" r="36.2"/><circle cx="1694.6" cy="218.9" r="36.2"/><circle cx="1926.6" cy="162.5" r="36.2"/><circle cx="2159.9" cy="145.1" r="36.2"/></g>
<path d="M533.6,1956.0L536.7,1956.7L539.8,1957.3L543.0,1957.9L546.1,1958.4L549.3,1958.8L552.4,1959.2L555.6,1959.6L558.7,1959.8L561.9,1960.1L565.1,1960.3L568.2,1960.4L571.4,1960.5L574.6,1960.5L577.8,1960.6L581.0,1960.5L584.2,1960.5L587.4,1960.4L590.6,1960.3L593.8,1960.1L597.0,1960.0L600.2,1959.8L603.5,1959.6L606.7,1959.3L609.9,1959.1L613.2,1958.8L616.4,1958.5L619.7,1958.3L622.9,1958.0L626.2,1957.7L629.4,1957.3L632.7,1957.0L635.9,1956.7L639.2,1956.4L642.4,1956.1L645.7,1955.8L649.0,1955.5L652.2,1955.3L655.5,1955.0L658.8,1954.8L662.1,1954.5L665.4,1954.3L668.6,1954.2L671.9,1954.0L675.2,1953.9L678.5,1953.8L681.8,1953.7L685.1,1953.7L688.3,1953.7L691.6,1953.7L694.9,1953.8L698.2,1953.9L701.5,1954.0L704.8,1954.3L708.1,1954.5L711.4,1954.8L714.7,1955.1L718.0,1955.5L721.3,1955.9L724.6,1956.3L727.8,1956.7L731.1,1957.2L734.4,1957.7L737.7,1958.3L741.0,1958.8L744.3,1959.4L747.6,1960.0L750.9,1960.5L754.2,1961.2L757.4,1961.8L760.7,1962.4L764.0,1963.0L767.3,1963.7L770.6,1964.3L773.8,1964.9L777.1,1965.6L780.4,1966.2L783.7,1966.8L786.9,1967.4L790.2,1968.0L793.5,1968.6L796.7,1969.2L800.0,1969.7L803.2,1970.2L806.5,1970.7L809.7,1971.2L813.0,1971.6L816.2,1972.0L819.4,1972.2L822.7,1972.4L825.9,1972.5L829.1,1972.5L832.4,1972.4L835.6,1972.2L838.8,1971.8L842.0,1971.4L845.2,1970.8L848.3,1970.1L851.4,1969.3L854.5,1968.4L857.6,1967.4L860.6,1966.3L863.6,1965.1L866.5,1963.8L869.4,1962.4L872.2,1960.9L875.0,1959.4L877.7,1957.7L880.3,1956.0L882.9,1954.2L885.3,1952.3L887.7,1950.3L890.0,1948.3L892.3,1946.2L894.5,1944.0L896.6,1941.8L898.6,1939.5L900.6,1937.1L902.5,1934.7L904.4,1932.3L906.2,1929.8L907.9,1927.2L909.6,1924.6L911.3,1922.0L912.9,1919.3L914.5,1916.6L916.0,1913.8L917.5,1911.0L919.0,1908.2L920.5,1905.4L921.9,1902.5L923.3,1899.6L924.6,1896.7L926.0,1893.8L927.3,1890.9L928.6,1887.9L930.0,1885.0L931.3,1882.0L932.6,1879.1L933.9,1876.1L935.2,1873.1L936.5,1870.2L937.8,1867.2L939.0,1864.2L940.3,1861.2L941.6,1858.3L942.9,1855.3L944.2,1852.3L945.5,1849.4L946.7,1846.4L948.0,1843.4L949.3,1840.4L950.6,1837.5L951.8,1834.5L953.1,1831.5L954.4,1828.5L955.6,1825.5L956.9,1822.6L958.1,1819.6L959.4,1816.6L960.6,1813.6L961.9,1810.6L963.1,1807.6L964.4,1804.6L965.6,1801.7L966.9,1798.7L968.1,1795.7L969.4,1792.7L970.6,1789.7L971.8,1786.7L973.1,1783.7L974.3,1780.7L975.5,1777.7L976.7,1774.7L978.0,1771.7L979.2,1768.7L980.4,1765.7L981.6,1762.7L982.8,1759.7L984.1,1756.7L985.3,1753.7L986.5,1750.7L987.7,1747.7L988.9,1744.7L990.1,1741.7L991.3,1738.7L992.5,1735.7L993.7,1732.7L994.9,1729.7L996.1,1726.6L997.3,1723.6L998.5,1720.6L999.7,1717.6L1000.9,1714.6L1002.1,1711.6L1003.2,1708.6L1004.4,1705.6L1005.6,1702.5L1006.8,1699.5L1008.0,1696.5L1009.1,1693.5L1010.3,1690.5L1011.5,1687.5L1012.7,1684.4L1013.8,1681.4L1015.0,1678.4L1016.2,1675.4L1017.3,1672.3L1018.5,1669.3L1019.7,1666.3L1020.8,1663.3L1022.0,1660.2L1023.2,1657.2L1024.3,1654.2L1025.5,1651.2L1026.6,1648.1L1027.8,1645.1L1028.9,1642.1L1030.1,1639.0L1031.2,1636.0L1032.4,1633.0L1033.5,1630.0L1034.7,1626.9L1035.8,1623.9L1036.9,1620.9L1038.1,1617.8L1039.2,1614.8L1040.4,1611.8L1041.5,1608.7L1042.6,1605.7L1043.8,1602.6L1044.9,1599.6L1046.0,1596.6L1047.1,1593.5L1048.3,1590.5L1049.4,1587.4L1050.5,1584.4L1051.6,1581.4L1052.8,1578.3L1053.9,1575.3L1055.0,1572.2L1056.1,1569.2L1057.3,1566.2L1058.4,1563.1L1059.5,1560.1L1060.6,1557.0L1061.7,1554.0L1062.8,1550.9L1063.9,1547.9L1065.0,1544.8L1066.2,1541.8L1067.3,1538.7L1068.4,1535.7L1069.5,1532.6L1070.6,1529.6L1071.7,1526.5L1072.8,1523.5L1073.9,1520.4L1075.0,1517.4L1076.1,1514.3L1077.2,1511.3L1078.3,1508.2L1079.4,1505.2L1080.5,1502.1L1081.6,1499.1L1082.7,1496.0L1083.8,1493.0L1084.9,1489.9L1085.9,1486.9L1087.0,1483.8L1088.1,1480.8L1089.2,1477.7L1090.3,1474.7L1091.4,1471.6L1092.5,1468.5L1093.6,1465.5L1094.6,1462.4L1095.7,1459.4L1096.8,1456.3L1097.9,1453.3L1099.0,1450.2L1100.1,1447.1L1101.1,1444.1L1102.2,1441.0L1103.3,1438.0L1104.4,1434.9L1105.5,1431.8L1106.5,1428.8L1107.6,1425.7L1108.7,1422.7L1109.8,1419.6L1110.8,1416.5L1111.9,1413.5L1113.0,1410.4L1114.1,1407.4L1115.1,1404.3L1116.2,1401.2L1117.3,1398.2L1118.3,1395.1L1119.4,1392.0L1120.5,1389.0L1121.5,1385.9L1122.6,1382.9L1123.7,1379.8L1124.8,1376.7L1125.8,1373.7L1126.9,1370.6L1128.0,1367.5L1129.0,1364.5L1130.1,1361.4L1131.1,1358.3L1132.2,1355.3L1133.3,1352.2L1134.3,1349.2L1135.4,1346.1L1136.5,1343.0L1137.5,1340.0L1138.6,1336.9L1139.7,1333.8L1140.7,1330.8L1141.8,1327.7L1142.8,1324.6L1143.9,1321.6L1145.0,1318.5L1146.0,1315.4L1147.1,1312.4L1148.1,1309.3L1149.2,1306.2L1150.3,1303.2L1151.3,1300.1L1152.4,1297.0L1153.4,1294.0L1154.5,1290.9L1155.6,1287.8L1156.6,1284.8L1157.7,1281.7L1158.7,1278.7L1159.8,1275.6L1160.9,1272.5L1161.9,1269.5L1163.0,1266.4L1164.0,1263.3L1165.1,1260.3L1166.2,1257.2L1167.2,1254.1L1168.3,1251.1L1169.3,1248.0L1170.4,1244.9L1171.4,1241.9L1172.5,1238.8L1173.6,1235.7L1174.6,1232.7L1175.7,1229.6L1176.7,1226.5L1177.8,1223.5L1178.9,1220.4L1179.9,1217.4L1181.0,1214.3L1182.0,1211.2L1183.1,1208.2L1184.2,1205.1L1185.2,1202.0L1186.3,1199.0L1187.3,1195.9L1188.4,1192.8L1189.5,1189.8L1190.5,1186.7L1191.6,1183.7L1192.7,1180.6L1193.7,1177.5L1194.8,1174.5L1195.8,1171.4L1196.9,1168.3L1198.0,1165.3L1199.0,1162.2L1200.1,1159.2L1201.2,1156.1L1202.2,1153.0L1203.3,1150.0L1204.4,1146.9L1205.4,1143.9L1206.5,1140.8L1207.6,1137.7L1208.6,1134.7L1209.7,1131.6L1210.8,1128.6L1211.8,1125.5L1212.9,1122.5L1214.0,1119.4L1215.0,1116.3L1216.1,1113.3L1217.2,1110.2L1218.3,1107.2L1219.3,1104.1L1220.4,1101.1L1221.5,1098.0L1222.6,1094.9L1223.6,1091.9L1224.7,1088.8L1225.8,1085.8L1226.9,1082.7L1227.9,1079.7L1229.0,1076.6L1230.1,1073.6L1231.2,1070.5L1232.3,1067.5L1233.3,1064.4L1234.4,1061.4L1235.5,1058.3L1236.6,1055.3L1237.7,1052.2L1238.8,1049.2L1239.8,1046.1L1240.9,1043.1L1242.0,1040.0L1243.1,1037.0L1244.2,1033.9L1245.3,1030.9L1246.4,1027.8L1247.5,1024.8L1248.6,1021.7L1249.7,1018.7L1250.8,1015.7L1251.8,1012.6L1252.9,1009.6L1254.0,1006.5L1255.1,1003.5L1256.2,1000.4L1257.3,997.4L1258.4,994.4L1259.5,991.3L1260.6,988.3L1261.8,985.2L1262.9,982.2L1264.0,979.2L1265.1,976.1L1266.2,973.1L1267.3,970.1L1268.4,967.0L1269.5,964.0L1270.6,960.9L1271.7,957.9L1272.9,954.9L1274.0,951.8L1275.1,948.8L1276.2,945.8L1277.3,942.8L1278.4,939.7L1279.6,936.7L1280.7,933.7L1281.8,930.6L1282.9,927.6L1284.1,924.6L1285.2,921.6L1286.3,918.5L1287.5,915.5L1288.6,912.5L1289.7,909.5L1290.9,906.4L1292.0,903.4L1293.1,900.4L1294.3,897.4L1295.4,894.3L1296.6,891.3L1297.7,888.3L1298.8,885.3L1300.0,882.3L1301.1,879.2L1302.3,876.2L1303.4,873.2L1304.6,870.2L1305.7,867.2L1306.9,864.2L1308.0,861.2L1309.2,858.1L1310.4,855.1L1311.5,852.1L1312.7,849.1L1313.9,846.1L1315.0,843.1L1316.2,840.1L1317.4,837.1L1318.5,834.1L1319.7,831.1L1320.9,828.1L1322.0,825.1L1323.2,822.1L1324.4,819.1L1325.6,816.1L1326.8,813.1L1327.9,810.1L1329.1,807.1L1330.3,804.1L1331.5,801.1L1332.7,798.1L1333.9,795.1L1335.1,792.1L1336.3,789.1L1337.5,786.1L1338.7,783.1L1339.9,780.1L1341.1,777.1L1342.3,774.1L1343.5,771.2L1344.7,768.2L1345.9,765.2L1347.1,762.2L1348.3,759.2L1349.5,756.2L1350.8,753.2L1352.0,750.3L1353.2,747.3L1354.4,744.3L1355.7,741.3L1356.9,738.4L1358.1,735.4L1359.3,732.4L1360.6,729.4L1361.8,726.5L1363.0,723.5L1364.3,720.5L1365.5,717.5L1366.8,714.6L1368.0,711.6L1369.3,708.6L1370.5,705.7L1371.8,702.7L1373.0,699.7L1374.3,696.8L1375.6,693.8L1376.8,690.9L1378.1,687.9L1379.4,685.0L1380.7,682.0L1381.9,679.1L1383.2,676.1L1384.5,673.2L1385.8,670.2L1387.1,667.3L1388.4,664.3L1389.7,661.4L1391.0,658.4L1392.3,655.5L1393.6,652.5L1394.9,649.6L1396.3,646.7L1397.6,643.7L1398.9,640.8L1400.2,637.9L1401.6,635.0L1402.9,632.0L1404.3,629.1L1405.6,626.2L1407.0,623.3L1408.3,620.3L1409.7,617.4L1411.0,614.5L1412.4,611.6L1413.8,608.7L1415.2,605.8L1416.6,602.9L1417.9,600.0L1419.3,597.1L1420.7,594.2L1422.1,591.3L1423.5,588.4L1425.0,585.5L1426.4,582.6L1427.8,579.7L1429.2,576.8L1430.7,573.9L1432.1,571.0L1433.5,568.2L1435.0,565.3L1436.5,562.4L1437.9,559.5L1439.4,556.7L1440.8,553.8L1442.3,550.9L1443.8,548.1L1445.3,545.2L1446.8,542.3L1448.3,539.5L1449.8,536.6L1451.3,533.8L1452.8,530.9L1454.4,528.1L1455.9,525.2L1457.4,522.4L1459.0,519.6L1460.5,516.7L1462.1,513.9L1463.6,511.1L1465.2,508.2L1466.8,505.4L1468.4,502.6L1470.0,499.8L1471.6,497.0L1473.2,494.1L1474.8,491.3L1476.4,488.5L1478.0,485.7L1479.7,482.9L1481.3,480.1L1482.9,477.3L1484.6,474.5L1486.3,471.7L1487.9,469.0L1489.6,466.2L1491.3,463.4L1493.0,460.6L1494.7,457.9L1496.4,455.1L1498.1,452.3L1499.8,449.6L1501.5,446.8L1503.3,444.0L1505.0,441.3L1506.8,438.5L1508.5,435.8L1510.3,433.0L1512.1,430.3L1513.9,427.6L1515.7,424.8L1517.5,422.1L1519.3,419.4L1521.1,416.7L1522.9,413.9L1524.8,411.2L1526.6,408.5L1528.5,405.8L1530.3,403.1L1532.2,400.4L1534.1,397.7L1536.0,395.0L1537.9,392.3L1539.8,389.7L1541.7,387.0L1543.6,384.3L1545.5,381.7L1547.5,379.0L1549.4,376.4L1551.4,373.7L1553.4,371.1L1555.3,368.5L1557.3,365.9L1559.3,363.3L1561.3,360.7L1563.4,358.1L1565.4,355.5L1567.4,352.9L1569.5,350.3L1571.5,347.8L1573.6,345.3L1575.7,342.7L1577.8,340.2L1579.9,337.7L1582.0,335.2L1584.1,332.7L1586.2,330.2L1588.4,327.8L1590.5,325.3L1592.7,322.9L1594.9,320.4L1597.0,318.0L1599.2,315.6L1601.4,313.2L1603.7,310.8L1605.9,308.5L1608.1,306.1L1610.4,303.8L1612.6,301.5L1614.9,299.2L1617.2,296.9L1619.5,294.6L1621.8,292.3L1624.1,290.1L1626.4,287.8L1628.7,285.6L1631.1,283.4L1633.4,281.3L1635.8,279.1L1638.2,276.9L1640.6,274.8L1643.0,272.7L1645.4,270.6L1647.9,268.5L1650.3,266.5L1652.7,264.4L1655.2,262.4L1657.7,260.4L1660.2,258.4L1662.7,256.5L1665.2,254.5L1667.7,252.6L1670.3,250.7L1672.8,248.8L1675.4,247.0L1678.0,245.1L1680.6,243.3L1683.2,241.5L1685.8,239.7L1688.4,238.0L1691.0,236.2L1693.7,234.5L1696.3,232.8L1699.0,231.1L1701.7,229.5L1704.4,227.8L1707.1,226.2L1709.8,224.6L1712.5,223.1L1715.3,221.5L1718.0,220.0L1720.8,218.5L1723.5,217.0L1726.3,215.5L1729.1,214.0L1731.9,212.6L1734.7,211.2L1737.5,209.8L1740.4,208.4L1743.2,207.1L1746.1,205.7L1748.9,204.4L1751.8,203.1L1754.7,201.9L1757.6,200.6L1760.5,199.4L1763.4,198.2L1766.3,197.0L1769.2,195.8L1772.1,194.7L1775.1,193.5L1778.0,192.4L1781.0,191.3L1784.0,190.3L1786.9,189.2L1789.9,188.2L1792.9,187.2L1795.9,186.2L1798.9,185.2L1801.9,184.2L1805.0,183.3L1808.0,182.4L1811.0,181.5L1814.1,180.6L1817.1,179.8L1820.2,178.9L1823.3,178.1L1826.3,177.3L1829.4,176.6L1832.5,175.8L1835.6,175.0L1838.7,174.3L1841.8,173.6L1845.0,172.9L1848.1,172.2L1851.2,171.6L1854.3,170.9L1857.5,170.3L1860.6,169.7L1863.8,169.1L1867.0,168.5L1870.1,168.0L1873.3,167.4L1876.5,166.9L1879.7,166.4L1882.8,165.9L1886.0,165.4L1889.2,164.9L1892.4,164.4L1895.6,164.0L1898.9,163.6L1902.1,163.1L1905.3,162.7L1908.5,162.3L1911.8,161.9L1915.0,161.6L1918.2,161.2L1921.5,160.8L1924.7,160.5L1928.0,160.2L1931.2,159.9L1934.5,159.6L1937.8,159.3L1941.0,159.0L1944.3,158.7L1947.6,158.4L1950.9,158.2L1954.2,157.9L1957.4,157.7L1960.7,157.4L1964.0,157.2L1967.3,157.0L1970.6,156.8L1973.9,156.6L1977.2,156.4L1980.5,156.2L1983.8,156.1L1987.1,155.9L1990.4,155.7L1993.8,155.6L1997.1,155.4L2000.4,155.3L2003.7,155.1L2007.0,155.0L2010.3,154.9L2013.7,154.8L2017.0,154.6L2020.3,154.5L2023.6,154.4L2027.0,154.3L2030.3,154.2L2033.6,154.1L2037.0,154.0L2040.3,153.9L2043.6,153.8L2047.0,153.8L2050.3,153.7L2053.6,153.6L2057.0,153.5L2060.3,153.4L2063.6,153.4L2067.0,153.3L2070.3,153.2L2073.6,153.2L2077.0,153.1L2080.3,153.0L2083.6,153.0L2087.0,152.9L2090.3,152.8L2093.6,152.8L2096.9,152.7L2100.3,152.7L2103.6,152.6L2106.9,152.6L2110.2,152.5L2113.6,152.5L2116.9,152.4L2120.2,152.4L2123.5,152.3L2126.8,152.3L2130.2,152.2L2133.5,152.2L2136.8,152.1L2140.1,152.1L2143.4,152.1L2146.7,152.0L2150.0,152.0L2153.3,152.0L2156.6,151.9L2159.9,151.9L2163.2,151.9L2166.4,151.8L2169.7,151.8L2173.0,151.8L2176.3,151.7L2179.6,151.7L2182.8,151.7L2186.1,151.7L2189.3,151.6L2192.6,151.6L2195.9,151.6L2199.1,151.6L2202.4,151.6L2205.6,151.5L2208.8,151.5L2212.1,151.5L2215.3,151.5L2218.5,151.5L2221.7,151.4L2225.0,151.4L2228.2,151.4L2231.4,151.4L2234.6,151.4L2237.8,151.3L2240.9,151.3L2244.1,151.3L2247.3,151.3L2250.5,151.3L2253.6,151.3L2256.8,151.3L2260.0,151.2L2263.1,151.2L2266.3,151.2L2269.4,151.2L2272.5,151.2L2275.6,151.2L2278.8,151.2L2281.9,151.1L2285.0,151.1L2288.1,151.1L2291.2,151.1L2294.3,151.1L2297.3,151.1L2300.4,151.0L2303.5,151.0L2306.5,151.0L2309.6,151.0" fill="none" stroke="#505050" stroke-width="15" stroke-dasharray="55.5 26.5" stroke-linejoin="round"/>
<path d="M533.6,1954.0L537.1,1953.8L540.5,1953.7L543.9,1953.6L547.3,1953.6L550.7,1953.5L554.1,1953.5L557.4,1953.6L560.7,1953.6L564.0,1953.7L567.3,1953.7L570.6,1953.8L573.9,1953.9L577.2,1954.1L580.4,1954.2L583.6,1954.3L586.9,1954.5L590.1,1954.6L593.3,1954.7L596.5,1954.8L599.7,1954.9L602.9,1955.1L606.1,1955.1L609.2,1955.2L612.4,1955.3L615.6,1955.3L618.7,1955.3L621.9,1955.3L625.0,1955.3L628.2,1955.2L631.4,1955.1L634.5,1955.0L637.7,1954.9L640.9,1954.7L644.0,1954.5L647.2,1954.2L650.4,1954.0L653.5,1953.8L656.7,1953.5L659.9,1953.2L663.1,1953.0L666.3,1952.7L669.5,1952.4L672.8,1952.2L676.0,1951.9L679.3,1951.7L682.5,1951.4L685.8,1951.2L689.1,1951.1L692.4,1950.9L695.7,1950.8L699.0,1950.7L702.4,1950.6L705.7,1950.6L709.1,1950.6L712.5,1950.7L715.9,1950.8L719.4,1951.0L722.8,1951.2L726.3,1951.5L729.8,1951.8L733.4,1952.2L736.9,1952.7L740.5,1953.2L744.0,1953.7L747.6,1954.3L751.2,1954.9L754.8,1955.5L758.4,1956.1L762.0,1956.7L765.5,1957.3L769.1,1957.9L772.6,1958.5L776.1,1959.1L779.6,1959.6L783.1,1960.0L786.5,1960.4L789.9,1960.7L793.2,1961.0L796.5,1961.1L799.8,1961.2L803.0,1961.2L806.2,1961.1L809.3,1960.9L812.3,1960.5L815.3,1960.0L818.2,1959.4L821.0,1958.6L823.7,1957.7L826.4,1956.6L829.0,1955.4L831.5,1954.0L833.9,1952.4L836.3,1950.7L838.5,1948.8L840.8,1946.9L842.9,1944.8L845.0,1942.5L847.1,1940.2L849.1,1937.8L851.0,1935.3L853.0,1932.8L854.8,1930.3L856.7,1927.7L858.5,1925.1L860.3,1922.4L862.0,1919.8L863.8,1917.1L865.4,1914.4L867.1,1911.7L868.7,1909.0L870.3,1906.2L871.9,1903.4L873.4,1900.6L875.0,1897.8L876.4,1895.0L877.9,1892.1L879.4,1889.2L880.8,1886.4L882.2,1883.5L883.5,1880.5L884.9,1877.6L886.2,1874.6L887.5,1871.7L888.8,1868.7L890.1,1865.7L891.3,1862.7L892.5,1859.7L893.7,1856.6L894.9,1853.6L896.1,1850.5L897.3,1847.5L898.4,1844.4L899.6,1841.3L900.7,1838.2L901.8,1835.1L902.9,1832.0L904.0,1828.9L905.0,1825.8L906.1,1822.7L907.2,1819.5L908.2,1816.4L909.3,1813.2L910.3,1810.1L911.3,1806.9L912.3,1803.8L913.4,1800.6L914.4,1797.4L915.4,1794.3L916.4,1791.1L917.4,1787.9L918.4,1784.8L919.4,1781.6L920.4,1778.4L921.4,1775.3L922.4,1772.1L923.4,1768.9L924.4,1765.7L925.4,1762.6L926.4,1759.4L927.4,1756.2L928.4,1753.1L929.4,1749.9L930.4,1746.8L931.4,1743.6L932.4,1740.4L933.4,1737.3L934.4,1734.1L935.4,1730.9L936.4,1727.8L937.4,1724.6L938.4,1721.5L939.4,1718.3L940.4,1715.1L941.4,1712.0L942.4,1708.8L943.4,1705.7L944.4,1702.5L945.4,1699.4L946.4,1696.2L947.4,1693.1L948.4,1689.9L949.4,1686.7L950.4,1683.6L951.4,1680.4L952.4,1677.3L953.4,1674.1L954.4,1671.0L955.4,1667.8L956.4,1664.7L957.4,1661.5L958.4,1658.4L959.4,1655.2L960.4,1652.1L961.4,1648.9L962.4,1645.8L963.4,1642.6L964.4,1639.5L965.4,1636.4L966.4,1633.2L967.4,1630.1L968.4,1626.9L969.4,1623.8L970.4,1620.6L971.4,1617.5L972.4,1614.4L973.4,1611.2L974.4,1608.1L975.4,1604.9L976.4,1601.8L977.4,1598.7L978.4,1595.5L979.4,1592.4L980.4,1589.2L981.4,1586.1L982.4,1583.0L983.4,1579.8L984.4,1576.7L985.4,1573.6L986.4,1570.4L987.4,1567.3L988.4,1564.2L989.4,1561.0L990.4,1557.9L991.4,1554.8L992.4,1551.6L993.4,1548.5L994.4,1545.4L995.4,1542.2L996.5,1539.1L997.5,1536.0L998.5,1532.8L999.5,1529.7L1000.5,1526.6L1001.5,1523.5L1002.5,1520.3L1003.5,1517.2L1004.5,1514.1L1005.5,1511.0L1006.5,1507.8L1007.5,1504.7L1008.5,1501.6L1009.6,1498.5L1010.6,1495.3L1011.6,1492.2L1012.6,1489.1L1013.6,1486.0L1014.6,1482.9L1015.6,1479.7L1016.6,1476.6L1017.6,1473.5L1018.7,1470.4L1019.7,1467.3L1020.7,1464.1L1021.7,1461.0L1022.7,1457.9L1023.7,1454.8L1024.7,1451.7L1025.8,1448.6L1026.8,1445.4L1027.8,1442.3L1028.8,1439.2L1029.8,1436.1L1030.8,1433.0L1031.9,1429.9L1032.9,1426.8L1033.9,1423.7L1034.9,1420.5L1035.9,1417.4L1037.0,1414.3L1038.0,1411.2L1039.0,1408.1L1040.0,1405.0L1041.0,1401.9L1042.1,1398.8L1043.1,1395.7L1044.1,1392.6L1045.1,1389.5L1046.2,1386.4L1047.2,1383.2L1048.2,1380.1L1049.2,1377.0L1050.3,1373.9L1051.3,1370.8L1052.3,1367.7L1053.4,1364.6L1054.4,1361.5L1055.4,1358.4L1056.4,1355.3L1057.5,1352.2L1058.5,1349.1L1059.5,1346.0L1060.6,1342.9L1061.6,1339.8L1062.6,1336.7L1063.7,1333.6L1064.7,1330.5L1065.7,1327.4L1066.8,1324.3L1067.8,1321.2L1068.8,1318.1L1069.9,1315.0L1070.9,1311.9L1072.0,1308.8L1073.0,1305.7L1074.0,1302.7L1075.1,1299.6L1076.1,1296.5L1077.2,1293.4L1078.2,1290.3L1079.3,1287.2L1080.3,1284.1L1081.3,1281.0L1082.4,1277.9L1083.4,1274.8L1084.5,1271.7L1085.5,1268.6L1086.6,1265.6L1087.6,1262.5L1088.7,1259.4L1089.7,1256.3L1090.8,1253.2L1091.8,1250.1L1092.9,1247.0L1093.9,1243.9L1095.0,1240.9L1096.0,1237.8L1097.1,1234.7L1098.2,1231.6L1099.2,1228.5L1100.3,1225.4L1101.3,1222.4L1102.4,1219.3L1103.4,1216.2L1104.5,1213.1L1105.6,1210.0L1106.6,1206.9L1107.7,1203.9L1108.8,1200.8L1109.8,1197.7L1110.9,1194.6L1112.0,1191.5L1113.0,1188.5L1114.1,1185.4L1115.2,1182.3L1116.2,1179.2L1117.3,1176.2L1118.4,1173.1L1119.4,1170.0L1120.5,1166.9L1121.6,1163.9L1122.7,1160.8L1123.7,1157.7L1124.8,1154.6L1125.9,1151.6L1127.0,1148.5L1128.0,1145.4L1129.1,1142.3L1130.2,1139.3L1131.3,1136.2L1132.4,1133.1L1133.5,1130.0L1134.5,1127.0L1135.6,1123.9L1136.7,1120.8L1137.8,1117.8L1138.9,1114.7L1140.0,1111.6L1141.1,1108.6L1142.2,1105.5L1143.2,1102.4L1144.3,1099.4L1145.4,1096.3L1146.5,1093.2L1147.6,1090.2L1148.7,1087.1L1149.8,1084.0L1150.9,1081.0L1152.0,1077.9L1153.1,1074.8L1154.2,1071.8L1155.3,1068.7L1156.4,1065.6L1157.5,1062.6L1158.6,1059.5L1159.7,1056.5L1160.9,1053.4L1162.0,1050.3L1163.1,1047.3L1164.2,1044.2L1165.3,1041.1L1166.4,1038.1L1167.5,1035.0L1168.6,1032.0L1169.8,1028.9L1170.9,1025.9L1172.0,1022.8L1173.1,1019.7L1174.2,1016.7L1175.3,1013.6L1176.5,1010.6L1177.6,1007.5L1178.7,1004.5L1179.8,1001.4L1181.0,998.3L1182.1,995.3L1183.2,992.2L1184.4,989.2L1185.5,986.1L1186.6,983.1L1187.8,980.0L1188.9,977.0L1190.0,973.9L1191.2,970.9L1192.3,967.8L1193.4,964.8L1194.6,961.7L1195.7,958.7L1196.9,955.6L1198.0,952.6L1199.2,949.5L1200.3,946.5L1201.5,943.4L1202.6,940.4L1203.8,937.3L1204.9,934.3L1206.1,931.2L1207.2,928.2L1208.4,925.1L1209.5,922.1L1210.7,919.0L1211.8,916.0L1213.0,912.9L1214.2,909.9L1215.3,906.8L1216.5,903.8L1217.7,900.8L1218.8,897.7L1220.0,894.7L1221.2,891.6L1222.3,888.6L1223.5,885.5L1224.7,882.5L1225.9,879.5L1227.0,876.4L1228.2,873.4L1229.4,870.3L1230.6,867.3L1231.8,864.2L1232.9,861.2L1234.1,858.2L1235.3,855.1L1236.5,852.1L1237.7,849.1L1238.9,846.0L1240.1,843.0L1241.2,839.9L1242.4,836.9L1243.6,833.9L1244.8,830.8L1246.0,827.8L1247.2,824.8L1248.4,821.7L1249.6,818.7L1250.8,815.6L1252.0,812.6L1253.2,809.6L1254.5,806.5L1255.7,803.5L1256.9,800.5L1258.1,797.4L1259.3,794.4L1260.5,791.4L1261.7,788.3L1262.9,785.3L1264.2,782.3L1265.4,779.2L1266.6,776.2L1267.8,773.2L1269.1,770.1L1270.3,767.1L1271.5,764.1L1272.7,761.1L1274.0,758.0L1275.2,755.0L1276.4,752.0L1277.7,748.9L1278.9,745.9L1280.2,742.9L1281.4,739.9L1282.6,736.8L1283.9,733.8L1285.1,730.8L1286.4,727.7L1287.6,724.7L1288.9,721.7L1290.1,718.7L1291.4,715.6L1292.6,712.6L1293.9,709.6L1295.1,706.6L1296.4,703.5L1297.7,700.5L1298.9,697.5L1300.2,694.5L1301.5,691.4L1302.7,688.4L1304.0,685.4L1305.3,682.4L1306.5,679.3L1307.8,676.3L1309.1,673.3L1310.4,670.3L1311.6,667.3L1312.9,664.2L1314.2,661.2L1315.5,658.2L1316.8,655.2L1318.1,652.2L1319.3,649.1L1320.6,646.1L1321.9,643.1L1323.2,640.1L1324.5,637.1L1325.8,634.0L1327.1,631.0L1328.4,628.0L1329.7,625.0L1331.0,622.0L1332.3,618.9L1333.6,615.9L1334.9,612.9L1336.2,609.9L1337.6,606.9L1338.9,603.9L1340.2,600.8L1341.5,597.8L1342.8,594.8L1344.1,591.8L1345.5,588.8L1346.8,585.8L1348.1,582.8L1349.5,579.7L1350.8,576.7L1352.1,573.7L1353.5,570.7L1354.8,567.7L1356.1,564.7L1357.5,561.7L1358.8,558.7L1360.2,555.7L1361.6,552.7L1362.9,549.7L1364.3,546.7L1365.6,543.7L1367.0,540.7L1368.4,537.7L1369.8,534.7L1371.2,531.7L1372.6,528.7L1374.0,525.8L1375.4,522.8L1376.8,519.8L1378.2,516.8L1379.6,513.9L1381.0,510.9L1382.4,507.9L1383.9,505.0L1385.3,502.0L1386.7,499.1L1388.2,496.1L1389.7,493.2L1391.1,490.2L1392.6,487.3L1394.1,484.4L1395.5,481.5L1397.0,478.5L1398.5,475.6L1400.0,472.7L1401.5,469.8L1403.1,466.9L1404.6,464.0L1406.1,461.1L1407.7,458.2L1409.2,455.3L1410.8,452.5L1412.3,449.6L1413.9,446.7L1415.5,443.9L1417.1,441.0L1418.7,438.2L1420.3,435.3L1421.9,432.5L1423.6,429.7L1425.2,426.9L1426.8,424.0L1428.5,421.2L1430.2,418.4L1431.8,415.6L1433.5,412.9L1435.2,410.1L1436.9,407.3L1438.7,404.5L1440.4,401.8L1442.1,399.0L1443.9,396.3L1445.6,393.6L1447.4,390.8L1449.2,388.1L1451.0,385.4L1452.8,382.7L1454.6,380.0L1456.4,377.4L1458.3,374.7L1460.1,372.0L1462.0,369.4L1463.9,366.7L1465.8,364.1L1467.7,361.5L1469.6,358.8L1471.5,356.2L1473.5,353.6L1475.4,351.0L1477.4,348.5L1479.4,345.9L1481.4,343.3L1483.4,340.8L1485.4,338.3L1487.5,335.7L1489.5,333.2L1491.6,330.7L1493.7,328.2L1495.7,325.7L1497.9,323.3L1500.0,320.8L1502.1,318.3L1504.3,315.9L1506.4,313.5L1508.6,311.1L1510.8,308.7L1513.0,306.3L1515.2,303.9L1517.5,301.5L1519.7,299.2L1522.0,296.8L1524.3,294.5L1526.5,292.2L1528.8,289.9L1531.2,287.6L1533.5,285.3L1535.8,283.0L1538.2,280.8L1540.5,278.5L1542.9,276.3L1545.3,274.1L1547.7,271.9L1550.1,269.7L1552.6,267.5L1555.0,265.3L1557.4,263.2L1559.9,261.1L1562.4,259.0L1564.9,256.8L1567.4,254.8L1569.9,252.7L1572.4,250.6L1575.0,248.6L1577.5,246.5L1580.1,244.5L1582.6,242.5L1585.2,240.5L1587.8,238.6L1590.4,236.6L1593.0,234.7L1595.7,232.8L1598.3,230.9L1600.9,229.0L1603.6,227.1L1606.3,225.2L1609.0,223.4L1611.7,221.6L1614.4,219.8L1617.1,218.0L1619.8,216.2L1622.5,214.4L1625.3,212.7L1628.0,211.0L1630.8,209.3L1633.6,207.6L1636.4,205.9L1639.2,204.2L1642.0,202.6L1644.8,201.0L1647.6,199.4L1650.4,197.8L1653.3,196.2L1656.1,194.7L1659.0,193.1L1661.9,191.6L1664.8,190.1L1667.7,188.7L1670.6,187.2L1673.5,185.8L1676.4,184.4L1679.3,183.0L1682.2,181.6L1685.2,180.2L1688.1,178.9L1691.1,177.6L1694.1,176.3L1697.1,175.0L1700.0,173.7L1703.0,172.5L1706.0,171.2L1709.1,170.0L1712.1,168.9L1715.1,167.7L1718.1,166.5L1721.2,165.4L1724.2,164.3L1727.3,163.2L1730.4,162.1L1733.4,161.1L1736.5,160.0L1739.6,159.0L1742.7,158.0L1745.8,157.0L1748.9,156.0L1752.0,155.1L1755.1,154.1L1758.3,153.2L1761.4,152.3L1764.5,151.4L1767.7,150.6L1770.8,149.7L1774.0,148.9L1777.1,148.0L1780.3,147.2L1783.5,146.4L1786.7,145.7L1789.8,144.9L1793.0,144.2L1796.2,143.4L1799.4,142.7L1802.6,142.0L1805.8,141.3L1809.1,140.6L1812.3,140.0L1815.5,139.3L1818.7,138.7L1821.9,138.1L1825.2,137.5L1828.4,136.9L1831.7,136.3L1834.9,135.7L1838.2,135.2L1841.4,134.7L1844.7,134.1L1847.9,133.6L1851.2,133.1L1854.4,132.6L1857.7,132.2L1861.0,131.7L1864.3,131.2L1867.5,130.8L1870.8,130.4L1874.1,130.0L1877.4,129.6L1880.7,129.2L1884.0,128.8L1887.2,128.4L1890.5,128.0L1893.8,127.7L1897.1,127.4L1900.4,127.0L1903.7,126.7L1907.0,126.4L1910.3,126.1L1913.6,125.8L1916.9,125.5L1920.2,125.3L1923.5,125.0L1926.8,124.7L1930.1,124.5L1933.5,124.3L1936.8,124.0L1940.1,123.8L1943.4,123.6L1946.7,123.4L1950.0,123.2L1953.3,123.0L1956.6,122.9L1959.9,122.7L1963.2,122.5L1966.5,122.4L1969.8,122.2L1973.1,122.1L1976.4,122.0L1979.7,121.8L1983.0,121.7L1986.3,121.6L1989.6,121.5L1992.9,121.4L1996.2,121.3L1999.5,121.2L2002.8,121.2L2006.1,121.1L2009.4,121.0L2012.7,121.0L2016.0,120.9L2019.3,120.8L2022.5,120.8L2025.8,120.7L2029.1,120.7L2032.4,120.7L2035.6,120.6L2038.9,120.6L2042.2,120.6L2045.4,120.6L2048.7,120.6L2052.0,120.6L2055.2,120.6L2058.5,120.6L2061.7,120.6L2065.0,120.6L2068.2,120.6L2071.5,120.6L2074.7,120.6L2078.0,120.6L2081.2,120.6L2084.5,120.7L2087.7,120.7L2091.0,120.7L2094.2,120.7L2097.5,120.8L2100.7,120.8L2103.9,120.8L2107.2,120.9L2110.4,120.9L2113.7,120.9L2116.9,121.0L2120.1,121.0L2123.4,121.0L2126.6,121.1L2129.8,121.1L2133.1,121.1L2136.3,121.2L2139.6,121.2L2142.8,121.3L2146.0,121.3L2149.3,121.3L2152.5,121.4L2155.7,121.4L2159.0,121.4L2162.2,121.5L2165.5,121.5L2168.7,121.5L2171.9,121.6L2175.2,121.6L2178.4,121.6L2181.7,121.6L2184.9,121.7L2188.2,121.7L2191.4,121.7L2194.6,121.7L2197.9,121.7L2201.1,121.7L2204.4,121.7L2207.7,121.7L2210.9,121.7L2214.2,121.7L2217.4,121.7L2220.7,121.7L2223.9,121.7L2227.2,121.7L2230.5,121.7L2233.7,121.6L2237.0,121.6L2240.3,121.6L2243.6,121.5L2246.8,121.5L2250.1,121.4L2253.4,121.4L2256.7,121.3L2260.0,121.2L2263.2,121.2L2266.5,121.1L2269.8,121.0L2273.1,120.9L2276.4,120.8L2279.7,120.7L2283.0,120.6L2286.3,120.5L2289.7,120.4L2293.0,120.2L2296.3,120.1L2299.6,120.0L2302.9,119.8L2306.3,119.6L2309.6,119.5" fill="none" stroke="#e41a1c" stroke-width="15" stroke-dasharray="55.5 26.5" stroke-linejoin="round"/>
</g>
<rect x="444.8" y="28.4" width="1953.6" height="2034.3" fill="none" stroke="#000" stroke-width="9.0" stroke-linejoin="miter"/>
<g stroke="#000" stroke-width="8" stroke-linecap="butt">
<line x1="534.4" y1="2062.7" x2="534.4" y2="2098.7"/>
<line x1="1090.8" y1="2062.7" x2="1090.8" y2="2098.7"/>
<line x1="1648.6" y1="2062.7" x2="1648.6" y2="2098.7"/>
<line x1="2206.8" y1="2062.7" x2="2206.8" y2="2098.7"/>
<line x1="444.8" y1="1987.4" x2="408.8" y2="1987.4"/>
<line x1="444.8" y1="1755.8" x2="408.8" y2="1755.8"/>
<line x1="444.8" y1="1524.2" x2="408.8" y2="1524.2"/>
<line x1="444.8" y1="1292.6" x2="408.8" y2="1292.6"/>
<line x1="444.8" y1="1061.1" x2="408.8" y2="1061.1"/>
<line x1="444.8" y1="829.5" x2="408.8" y2="829.5"/>
<line x1="444.8" y1="597.9" x2="408.8" y2="597.9"/>
<line x1="444.8" y1="366.3" x2="408.8" y2="366.3"/>
<line x1="444.8" y1="134.7" x2="408.8" y2="134.7"/>
</g>
<g font-size="92.6">
<text x="533.2" y="2206" text-anchor="middle">0</text>
<text x="1089.6" y="2206" text-anchor="middle">20</text>
<text x="1647.4" y="2206" text-anchor="middle">40</text>
<text x="2205.6" y="2206" text-anchor="middle">60</text>
<text x="372" y="2022.4" text-anchor="end">275</text>
<text x="372" y="1790.8" text-anchor="end">300</text>
<text x="372" y="1559.2" text-anchor="end">325</text>
<text x="372" y="1327.6" text-anchor="end">350</text>
<text x="372" y="1096.1" text-anchor="end">375</text>
<text x="372" y="864.5" text-anchor="end">400</text>
<text x="372" y="632.9" text-anchor="end">425</text>
<text x="372" y="401.3" text-anchor="end">450</text>
<text x="372" y="169.7" text-anchor="end">475</text>
</g>
<text transform="translate(1422,2351.5) scale(1.023,1)" font-size="111.1" text-anchor="middle">Time / min</text>
<text transform="translate(128,1045) rotate(-90) scale(1.023,1)" font-size="111.1" text-anchor="middle">Temperature / °C</text>
<g font-size="92.6">
<rect x="490.2" y="73.2" width="732.2" height="584.2" rx="15" ry="15" fill="#fff" fill-opacity="0.8" stroke="#d6d6d6" stroke-width="9"/>
<line x1="528.3" y1="149.6" x2="713.5" y2="149.6" stroke="#505050" stroke-width="15" stroke-linecap="square"/>
<circle cx="620.9" cy="149.6" r="36.2" fill="none" stroke="#505050" stroke-width="9.5"/>
<line x1="528.3" y1="289.3" x2="713.5" y2="289.3" stroke="#e41a1c" stroke-width="15" stroke-linecap="square"/>
<circle cx="620.9" cy="289.3" r="36.2" fill="none" stroke="#e41a1c" stroke-width="9.5"/>
<line x1="528.3" y1="429.0" x2="713.5" y2="429.0" stroke="#505050" stroke-width="15" stroke-dasharray="55.5 26.5"/>
<line x1="528.3" y1="568.7" x2="713.5" y2="568.7" stroke="#e41a1c" stroke-width="15" stroke-dasharray="55.5 26.5"/>
<text x="789.5" y="182.6">exp <tspan font-style="italic">T</tspan><tspan font-size="64.8" dy="13.5">0</tspan></text>
<text x="789.5" y="322.3">exp <tspan font-style="italic">T</tspan><tspan font-size="64.8" dy="13.5">0.5</tspan><tspan font-size="64.8" font-style="italic">R</tspan></text>
<text x="789.5" y="462">fit <tspan font-style="italic">T</tspan><tspan font-size="64.8" dy="13.5">0</tspan></text>
<text x="789.5" y="601.7">fit <tspan font-style="italic">T</tspan><tspan font-size="64.8" dy="13.5">0.5</tspan><tspan font-size="64.8" font-style="italic">R</tspan></text>
</g>
</svg>
</body></html>
